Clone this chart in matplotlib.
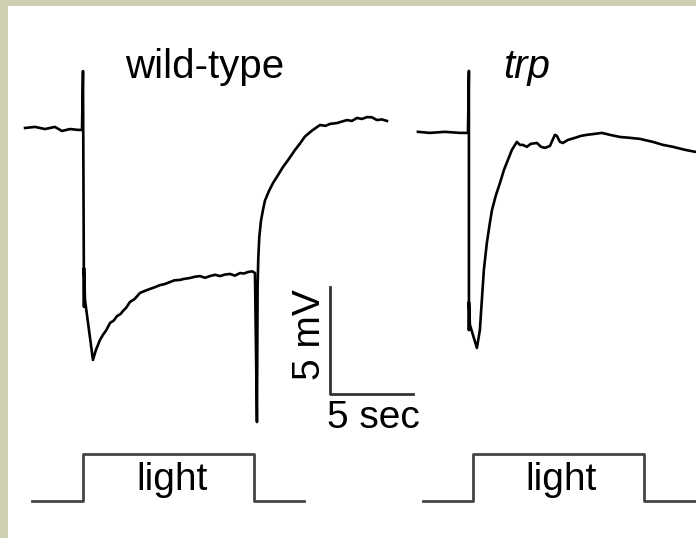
import numpy as np
import matplotlib
matplotlib.use("Agg")
import matplotlib.pyplot as plt
from matplotlib.patches import Rectangle

# wild-type trace: time (s) from light onset, voltage (mV) from baseline
wt_t = [-3.49, -2.89, -2.29, -1.69, -1.27, -0.78, -0.30, -0.06, 0.0, 0.06, 0.06, 0.12,
        0.60, 0.78, 1.02, 1.20, 1.40, 1.63, 1.85, 2.05, 2.25, 2.41, 2.60, 2.83, 3.10, 3.43,
        3.70, 4.04, 4.30, 4.64, 4.90, 5.24, 5.50, 5.84, 6.10, 6.45, 6.75, 7.05, 7.35, 7.65,
        7.95, 8.25, 8.55, 8.86, 9.15, 9.46, 9.70, 9.94, 10.20, 10.36,
        10.48, 10.52, 10.56, 10.62, 10.72, 10.85, 10.96, 11.20, 11.45, 11.75, 12.05, 12.40,
        12.77, 13.05, 13.37, 13.80, 14.28, 14.60, 14.88, 15.30, 15.60, 15.90, 16.20, 16.51,
        16.80, 17.11, 17.40, 17.71, 18.00, 18.31]
wt_v = [0.0, 0.05, -0.05, 0.05, -0.14, -0.05, -0.09, -0.09, 2.66, -8.36, -6.54, -8.04,
        -10.84, -10.37, -9.91, -9.67, -9.45, -9.11, -9.00, -8.79, -8.70, -8.55, -8.40, -8.13, -8.00, -7.71,
        -7.62, -7.52, -7.45, -7.34, -7.30, -7.20, -7.12, -7.10, -7.05, -7.01, -6.95, -6.92, -7.00, -6.92,
        -6.86, -6.92, -6.85, -6.82, -6.90, -6.78, -6.80, -6.73, -6.70, -6.78,
        -13.74, -7.40, -6.10, -5.10, -4.35, -3.80, -3.40, -2.95, -2.57, -2.20, -1.82, -1.45,
        -1.03, -0.75, -0.40, -0.12, 0.14, 0.10, 0.19, 0.23, 0.30, 0.37, 0.33, 0.47,
        0.42, 0.51, 0.50, 0.37, 0.40, 0.33]

# trp trace
trp_t = [-3.07, -2.35, -1.45, -0.54, -0.06, 0.0, 0.0, 0.0, 0.06, 0.48, 0.66, 0.78, 0.90,
         1.08, 1.27, 1.39, 1.63, 1.87, 2.11, 2.35, 2.59, 2.89, 3.07, 3.25, 3.49, 3.73, 4.10,
         4.34, 4.58, 4.88, 5.18, 5.30, 5.48, 5.66, 5.96, 6.39, 6.75, 7.11, 7.53, 8.01, 8.49,
         9.10, 9.70, 10.30, 11.08, 11.69, 12.29, 13.01, 13.67]
trp_v = [0.05, 0.0, 0.05, 0.0, 0.0, 2.90, -9.21, -7.90, -8.97, -10.05, -9.21, -7.80, -6.40,
         -5.14, -4.16, -3.60, -2.90, -2.34, -1.73, -1.26, -0.79, -0.42, -0.56, -0.56, -0.65, -0.51, -0.47,
         -0.65, -0.70, -0.61, -0.09, -0.14, -0.42, -0.47, -0.33, -0.23, -0.14, -0.09, -0.05, 0.0, -0.09,
         -0.19, -0.23, -0.28, -0.42, -0.56, -0.65, -0.79, -0.89]

# light stimulus (0 = off, 1 = on)
wt_light_t = [-3.07, 0.0, 0.0, 10.3, 10.3, 13.3]
trp_light_t = [-2.77, 0.24, 0.24, 10.54, 10.54, 14.0]
light_level = [0, 0, 1, 1, 0, 0]

# scale bar
bar_sec = 5
bar_mv = 5

font = "Liberation Sans"
trp_dt, trp_dv = 23.25, -0.23
light_base, light_h = -17.43, 2.2

fig = plt.figure(figsize=(6.96, 5.38), dpi=100, facecolor="#cfcdb2")
# white paper panel inside the beige frame
fig.patches.append(Rectangle((8 / 696, 0), 688 / 696, 532 / 538, transform=fig.transFigure,
                             facecolor="white", edgecolor="none", zorder=-10))
ax = fig.add_axes([8 / 696, 0, 688 / 696, 532 / 538])
ax.set_xlim(-4.518, 36.93)
ax.set_ylim(-19.16, 5.70)
ax.axis("off")

ax.plot(wt_t, wt_v, color="black", lw=1.9, solid_joinstyle="round")
ax.plot(np.array(trp_t) + trp_dt, np.array(trp_v) + trp_dv, color="black", lw=1.9,
        solid_joinstyle="round")

lv = light_base + light_h * np.array(light_level)
ax.plot(wt_light_t, lv, color="#444444", lw=2.0)
ax.plot(np.array(trp_light_t) + trp_dt, lv, color="#444444", lw=2.0)

bx, by = 14.88, -12.43
ax.plot([bx, bx, bx + bar_sec], [by + bar_mv, by, by], color="#333333", lw=2.0)

ax.text(7.35, 2.34, "wild-type", fontsize=29, family=font, ha="center", va="baseline")
ax.text(26.75, 2.34, "trp", fontsize=29, family=font, style="italic", ha="center", va="baseline")
ax.text(13.7, -9.67, "%d mV" % bar_mv, fontsize=28, family=font, rotation=90,
        ha="center", va="center")
ax.text(17.5, -13.55, "%d sec" % bar_sec, fontsize=28, family=font, ha="center", va="center")
ax.text(5.36, -16.45, "light", fontsize=28, family=font, ha="center", va="center")
ax.text(28.8, -16.45, "light", fontsize=28, family=font, ha="center", va="center")

fig.savefig("out.png", dpi=100, facecolor=fig.get_facecolor())
